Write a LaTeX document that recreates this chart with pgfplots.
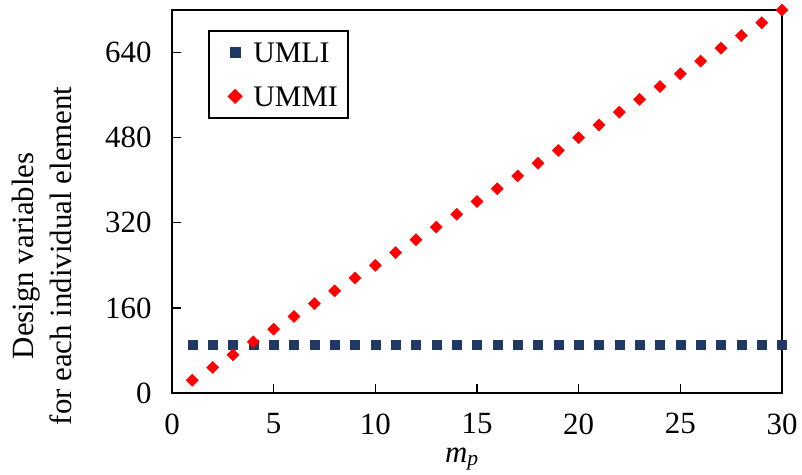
\documentclass[border=0pt]{standalone}
\usepackage{pgfplots}
\pgfplotsset{compat=1.18}
\usepackage{fontspec}
\setmainfont{Liberation Serif}
\definecolor{umli}{HTML}{1F3864}
\begin{document}
\begin{tikzpicture}
\begin{axis}[
  scale only axis, width=610bp, height=383bp,
  xmin=0, xmax=30, ymin=0, ymax=720,
  xtick={0,5,...,30}, ytick={0,160,...,640},
  tick align=inside, xtick pos=bottom, ytick pos=left,
  major tick length=9bp,
  axis line style={line width=2.2bp}, tick style={line width=1.4bp, black},
  /pgf/number format/assume math mode=true,
  tick label style={font=\fontsize{31}{37}\selectfont},
  xticklabel style={yshift=-17bp},
  yticklabel style={xshift=-17bp},
  xlabel={\textit{m\textsubscript{p}}},
  xlabel style={at={(axis description cs:0.5,0)}, anchor=base, yshift=-69bp, xshift=-15bp,
    font=\fontsize{31}{37}\selectfont},
  ylabel={Design variables\\for each individual element},
  ylabel style={at={(axis description cs:-0.164,0.358)}, anchor=south,
    inner sep=0pt, align=center, font=\fontsize{31}{38}\selectfont},
  clip=false,
  legend style={at={(axis description cs:0.059,0.948)}, anchor=north west, draw=black,
    line width=2.2bp, font=\fontsize{30}{36}\selectfont,
    nodes={inner sep=0bp, text depth=0bp},
    inner xsep=10bp, inner ysep=12bp, row sep=24bp, column sep=12bp},
  legend image code/.code={\draw[#1] plot coordinates {(0bp,0bp)}; \path (-15bp,0bp);},
  legend cell align=left,
]
\addplot[only marks, mark=square*, mark size=4.5bp, color=umli] coordinates {
(1,90)(2,90)(3,90)(4,90)(5,90)(6,90)(7,90)(8,90)(9,90)(10,90)
(11,90)(12,90)(13,90)(14,90)(15,90)(16,90)(17,90)(18,90)(19,90)(20,90)
(21,90)(22,90)(23,90)(24,90)(25,90)(26,90)(27,90)(28,90)(29,90)(30,90)};
\addlegendentry{UMLI}
\addplot[only marks, mark=square*, mark options={rotate=45}, mark size=4.3bp, color=red] coordinates {
(1,24)(2,48)(3,72)(4,96)(5,120)(6,144)(7,168)(8,192)(9,216)(10,240)
(11,264)(12,288)(13,312)(14,336)(15,360)(16,384)(17,408)(18,432)(19,456)(20,480)
(21,504)(22,528)(23,552)(24,576)(25,600)(26,624)(27,648)(28,672)(29,696)(30,720)};
\addlegendentry{UMMI}
\end{axis}
\path ([xshift=-172bp,yshift=-82bp]current axis.south west);
\path ([xshift=20bp,yshift=10bp]current axis.north east);
\end{tikzpicture}
\end{document}
